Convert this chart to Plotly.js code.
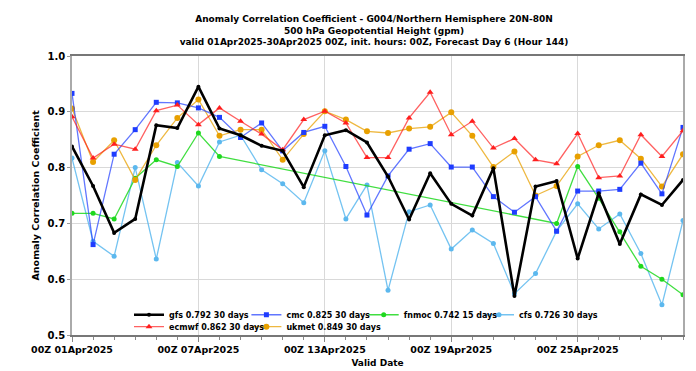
<!DOCTYPE html>
<html>
<head>
<meta charset="utf-8">
<script src="https://cdn.plot.ly/plotly-3.0.1.min.js"></script>
<style>html,body{margin:0;padding:0;background:#fff}#chart{width:696px;height:371px}</style>
</head>
<body>
<div id="chart"></div>
<script>
// Days of April 2025 (valid dates, 00Z)
const days = [1,2,3,4,5,6,7,8,9,10,11,12,13,14,15,16,17,18,19,20,21,22,23,24,25,26,27,28,29,30];
const fnmocDays = [1,2,3,4,5,6,7,8,24,25,26,27,28,29,30];

const gfs   = [0.838,0.767,0.683,0.708,0.876,0.871,0.945,0.870,0.858,0.839,0.830,0.765,0.858,0.867,0.845,0.784,0.707,0.790,0.735,0.714,0.799,0.570,0.766,0.776,0.637,0.754,0.663,0.752,0.733,0.778];
const cmc   = [0.933,0.662,0.824,0.868,0.917,0.916,0.907,0.890,0.854,0.880,0.830,0.863,0.874,0.802,0.715,0.785,0.833,0.843,0.801,0.801,0.748,0.720,0.748,0.686,0.758,0.758,0.761,0.808,0.753,0.872];
const ecmwf = [0.891,0.817,0.842,0.833,0.902,0.912,0.877,0.907,0.883,0.860,0.832,0.886,0.901,0.880,0.818,0.818,0.889,0.935,0.859,0.883,0.835,0.852,0.814,0.807,0.861,0.782,0.785,0.859,0.820,0.866];
const ukmet = [0.906,0.810,0.849,0.778,0.840,0.889,0.922,0.857,0.868,0.868,0.814,0.860,0.901,0.886,0.865,0.862,0.870,0.873,0.899,0.857,0.801,0.829,0.750,0.767,0.820,0.840,0.849,0.816,0.766,0.824];
const fnmoc = [0.718,0.718,0.708,0.781,0.814,0.802,0.862,0.820,0.700,0.802,0.745,0.685,0.623,0.600,0.572];
const cfs   = [0.817,0.668,0.641,0.800,0.636,0.809,0.767,0.846,0.858,0.796,0.771,0.737,0.830,0.708,0.769,0.580,0.721,0.733,0.654,0.688,0.664,0.574,0.610,0.686,0.735,0.690,0.717,0.646,0.554,0.705];

const tickDays = [1,7,13,19,25];
const tickLabels = ['00Z 01Apr2025','00Z 07Apr2025','00Z 13Apr2025','00Z 19Apr2025','00Z 25Apr2025'];

const names = {
  gfs: 'gfs 0.792 30 days', ecmwf: 'ecmwf 0.862 30 days', cmc: 'cmc 0.825 30 days',
  ukmet: 'ukmet 0.849 30 days', fnmoc: 'fnmoc 0.742 15 days', cfs: 'cfs 0.726 30 days'
};

const toDate = d => '2025-04-' + String(d).padStart(2,'0') + ' 00:00';
const X = days.map(toDate);

function tr(name, x, y, color, lineColor, symbol, msize, lw, legend) {
  return {
    type: 'scatter', mode: 'lines+markers', name: name, x: x, y: y,
    line: {color: lineColor, width: lw},
    marker: {color: color, symbol: symbol, size: msize},
    legend: legend, hoverinfo: 'x+y'
  };
}

const data = [
  tr(names.cfs, X, cfs, '#5cb8ee', 'rgba(92,184,238,0.85)', 'circle', 5, 1.3, 'legend4'),
  tr(names.fnmoc, fnmocDays.map(toDate), fnmoc, '#1ed81e', 'rgba(30,216,30,0.85)', 'circle', 5, 1.3, 'legend3'),
  tr(names.ukmet, X, ukmet, '#e8a000', 'rgba(232,160,0,0.75)', 'circle', 6, 1.3, 'legend6'),
  tr(names.cmc, X, cmc, '#1e3cff', 'rgba(30,60,255,0.7)', 'square', 5, 1.3, 'legend2'),
  tr(names.ecmwf, X, ecmwf, '#ff1e1e', 'rgba(255,30,30,0.7)', 'triangle-up', 6, 1.3, 'legend5'),
  tr(names.gfs, X, gfs, '#000000', '#000000', 'circle', 4, 2.6, 'legend')
];

const F = 'DejaVu Sans, Liberation Sans, sans-serif';
function leg(xpx, ypaper) {
  return {
    orientation: 'h', xref: 'paper', yref: 'paper', xanchor: 'left', yanchor: 'middle',
    x: (xpx - 72.3) / 611, y: ypaper,
    bgcolor: 'rgba(0,0,0,0)', borderwidth: 0,
    font: {family: F, size: 8, color: '#000', weight: 'bold'}
  };
}

const layout = {
  width: 696, height: 371,
  margin: {l: 72, r: 13, t: 56, b: 36},
  paper_bgcolor: '#fff', plot_bgcolor: '#fff',
  font: {family: F, color: '#000'},
  title: {
    text: 'Anomaly Correlation Coefficient - G004/Northern Hemisphere 20N-80N<br>500 hPa Geopotential Height (gpm)<br>valid 01Apr2025-30Apr2025 00Z, init. hours: 00Z, Forecast Day 6 (Hour 144)',
    font: {family: F, size: 9, color: '#000', weight: 'bold'},
    xref: 'container', x: 374/696, xanchor: 'center',
    yref: 'container', y: 1 - 22/371, yanchor: 'top'
  },
  xaxis: {
    type: 'date', range: [toDate(1), toDate(30)],
    tickmode: 'array', tickvals: tickDays.map(toDate), ticktext: tickLabels,
    tickfont: {family: F, size: 9.5, color: '#000', weight: 'bold'},
    ticks: 'outside', ticklen: 5, tickcolor: '#888', tickwidth: 1,
    showgrid: true, gridcolor: '#d9d9d9', gridwidth: 1,
    minor: {dtick: 86400000, tick0: toDate(1), ticks: 'outside', ticklen: 3, tickcolor: '#888', showgrid: false},
    showline: true, linecolor: '#777', linewidth: 1.5, mirror: true,
    zeroline: false,
    title: {text: 'Valid Date', font: {family: F, size: 9, color: '#000', weight: 'bold'}, standoff: 6}
  },
  yaxis: {
    range: [0.5, 1.0], dtick: 0.1, tick0: 0.5, tickformat: '.1f',
    tickfont: {family: F, size: 10, color: '#000', weight: 'bold'},
    ticks: 'outside', ticklen: 3, tickcolor: '#999',
    showgrid: true, gridcolor: '#d9d9d9', gridwidth: 1,
    showline: true, linecolor: '#aaa', linewidth: 1.5, mirror: true,
    zeroline: false
  },
  annotations: [{
    text: 'Anomaly Correlation Coefficient', textangle: -90,
    xref: 'paper', yref: 'paper', x: (35 - 72) / 611, y: 0.5,
    xanchor: 'center', yanchor: 'middle', showarrow: false,
    font: {family: F, size: 9.5, color: '#000', weight: 'bold'}
  }],
  legend:  leg(129.3, 0.0726),
  legend2: leg(246.7, 0.0726),
  legend3: leg(364.0, 0.0726),
  legend4: leg(479.3, 0.0726),
  legend5: leg(129.3, 0.0297),
  legend6: leg(246.7, 0.0297),
  showlegend: true
};

Plotly.newPlot('chart', data, layout, {displayModeBar: false, responsive: false});
</script>
</body>
</html>
